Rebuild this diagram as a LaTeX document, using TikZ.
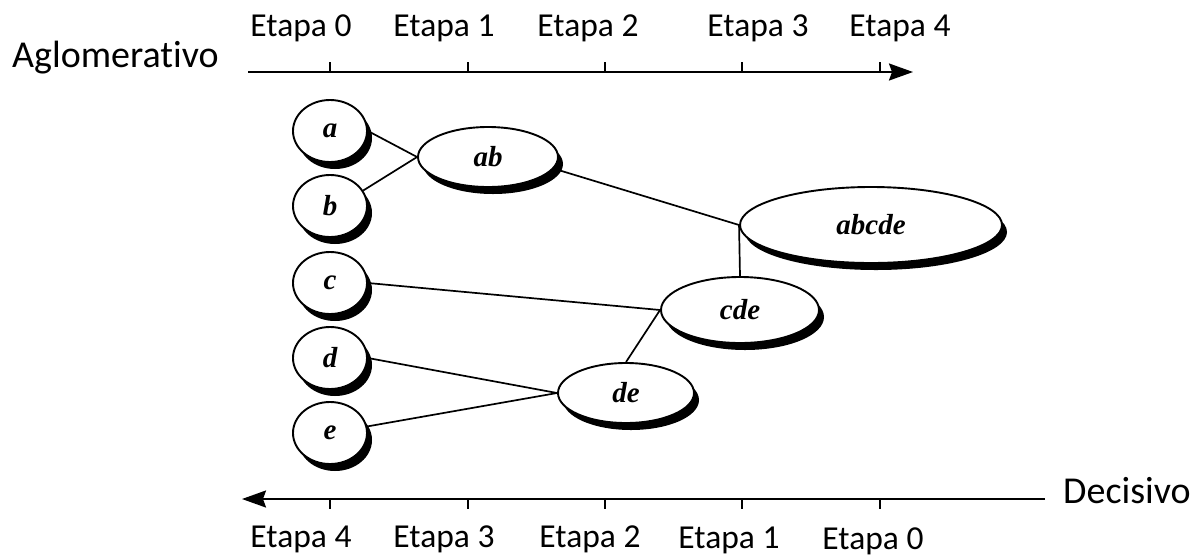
\documentclass[tikz,border=0pt]{standalone}
\usepackage{fontspec}
\setmainfont{Liberation Serif}
\newfontfamily\calib[Ligatures=NoCommon]{Carlito}
\usetikzlibrary{arrows.meta,shapes.geometric,shadows}
\begin{document}
\begin{tikzpicture}[x=1pt,y=-1pt,
  axis/.style={line width=2pt},
  tick/.style={line width=1.6pt},
  lab/.style={font=\calib\fontsize{33.5}{36}\selectfont, anchor=base, inner sep=0pt},
  side/.style={font=\calib\fontsize{38}{40}\selectfont, anchor=base west, inner sep=0pt},
  cl/.style={ellipse, draw, line width=1.9pt, fill=white, inner sep=0pt,
    font=\bfseries\itshape\fontsize{29}{31}\selectfont,
    drop shadow={shadow xshift=5pt, shadow yshift=-7pt, opacity=1, fill=black}},
  conn/.style={line width=1.7pt}]
\path[use as bounding box] (0,0) rectangle (1197,558);
% top axis
\coordinate (t0) at (248,72);
\coordinate (t1) at (913,72);
\draw[axis,-{Stealth[length=24pt,width=17pt,inset=3pt]}] (t0) -- (t1);
\foreach \x in {330,468,605,742,880} \draw[tick] (\x,72) -- (\x,62);
\node[lab] (ta0) at (301,36) {Etapa 0};
\node[lab] (ta1) at (444,36) {Etapa 1};
\node[lab] (ta2) at (588,36) {Etapa 2};
\node[lab] (ta3) at (758,36) {Etapa 3};
\node[lab] (ta4) at (900,36) {Etapa 4};
\node[side] (aglo) at (12,67) {Aglomerativo};
% bottom axis
\coordinate (b0) at (1045,499);
\coordinate (b1) at (242,499);
\draw[axis,-{Stealth[length=24pt,width=17pt,inset=3pt]}] (b0) -- (b1);
\foreach \x in {330,468,605,742,880} \draw[tick] (\x,499) -- (\x,509);
\node[lab] (ba4) at (301,547) {Etapa 4};
\node[lab] (ba3) at (444,547) {Etapa 3};
\node[lab] (ba2) at (590,547) {Etapa 2};
\node[lab] (ba1) at (729,548) {Etapa 1};
\node[lab] (ba0) at (873,549) {Etapa 0};
\node[side] (deci) at (1063,503) {Decisivo};
% clusters
\node[cl, minimum width=74pt, minimum height=62pt] (a) at (330,131) {a};
\node[cl, minimum width=74pt, minimum height=62pt] (b) at (330,206) {b};
\node[cl, minimum width=74pt, minimum height=62pt] (c) at (330,283) {c};
\node[cl, minimum width=74pt, minimum height=62pt] (d) at (330,358) {d};
\node[cl, minimum width=74pt, minimum height=62pt] (e) at (330,433) {e};
\node[cl, minimum width=140pt, minimum height=60pt] (ab) at (488,157) {ab};
\node[cl, minimum width=262pt, minimum height=76pt] (abcde) at (871,225) {abcde};
\node[cl, minimum width=158pt, minimum height=66pt] (cde) at (740,310) {cde};
\node[cl, minimum width=136pt, minimum height=60pt] (de) at (626,393) {de};
% connectors
\draw[conn] (a.east) -- (ab.west);
\draw[conn] (b.25) -- (ab.west);
\draw[conn] (ab.-10) -- (abcde.west);
\draw[conn] (abcde.west) -- (cde.north);
\draw[conn] (c.east) -- (cde.west);
\draw[conn] (de.north) -- (cde.west);
\draw[conn] (d.east) -- (de.west);
\draw[conn] (e.10) -- (de.west);
\end{tikzpicture}
\end{document}
